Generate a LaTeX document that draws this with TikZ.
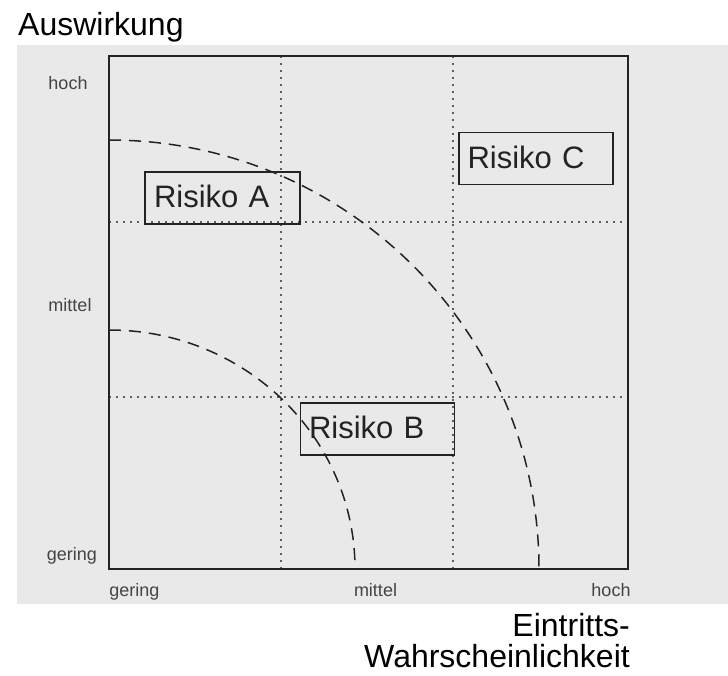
\documentclass[tikz,border=0pt]{standalone}
\usepackage{fontspec}
\setmainfont{Liberation Sans}
\definecolor{panel}{RGB}{233,233,233}
\definecolor{ink}{RGB}{35,35,35}
\definecolor{dotc}{RGB}{95,95,95}
\begin{document}
\begin{tikzpicture}[x=1pt,y=-1pt,
  bigtxt/.style={font=\fontsize{32}{32}\selectfont, text=black, inner sep=0pt},
  smalltxt/.style={font=\fontsize{18}{18}\selectfont, text=ink!85, inner sep=0pt, anchor=base},
  riskbox/.style={draw=ink, line width=1.8pt, font=\fontsize{31}{31}\selectfont, text=ink,
    text width=137pt, inner xsep=8.5pt, inner ysep=0pt, align=left,
    text height=24pt, text depth=5pt, minimum height=52pt},
  gridline/.style={dotc, line width=1.6pt, dash pattern=on 1.6pt off 5.4pt},
  arcline/.style={ink, line width=1.5pt, dash pattern=on 12pt off 8pt},
  frame/.style={ink, line width=1.8pt}]
\useasboundingbox (0,0) rectangle (728,675);
\fill[panel] (17,45) rectangle (728,604);
% grid
\coordinate (g1t) at (281,56); \coordinate (g1b) at (281,569);
\coordinate (g2t) at (453,56); \coordinate (g2b) at (453,569);
\coordinate (h1l) at (109,222); \coordinate (h1r) at (628,222);
\coordinate (h2l) at (109,397); \coordinate (h2r) at (628,397);
\draw[gridline] (g1t) -- (g1b);
\draw[gridline] (g2t) -- (g2b);
\draw[gridline] (h1l) -- (h1r);
\draw[gridline] (h2l) -- (h2r);
% arcs
\draw[arcline] (109,140) arc[start angle=90, end angle=0, x radius=430, y radius=-429];
\draw[arcline] (109,330) arc[start angle=90, end angle=0, x radius=246, y radius=-239];
% frame
\draw[frame] (109,56) rectangle (628,569);
% risk boxes
\node[riskbox, minimum width=155pt] (ra) at (222.5,198) {Risiko A};
\node[riskbox, minimum width=154pt] (rc) at (536,158.5) {Risiko C};
\node[riskbox, minimum width=153pt] (rb) at (377.5,429) {Risiko B};
% axis labels
\node[smalltxt] (yh) at (68,89) {hoch};
\node[smalltxt] (ym) at (70,311) {mittel};
\node[smalltxt] (yg) at (72,560) {gering};
\node[smalltxt] (xg) at (134.5,596) {gering};
\node[smalltxt] (xm) at (375.5,596) {mittel};
\node[smalltxt] (xh) at (611,596) {hoch};
% titles
\node[bigtxt, anchor=base west] (tA) at (18,35) {Auswirkung};
\node[bigtxt, anchor=base east] (tE) at (630,636) {Eintritts-};
\node[bigtxt, anchor=base east] (tW) at (630,667) {Wahrscheinlichkeit};
\end{tikzpicture}
\end{document}
